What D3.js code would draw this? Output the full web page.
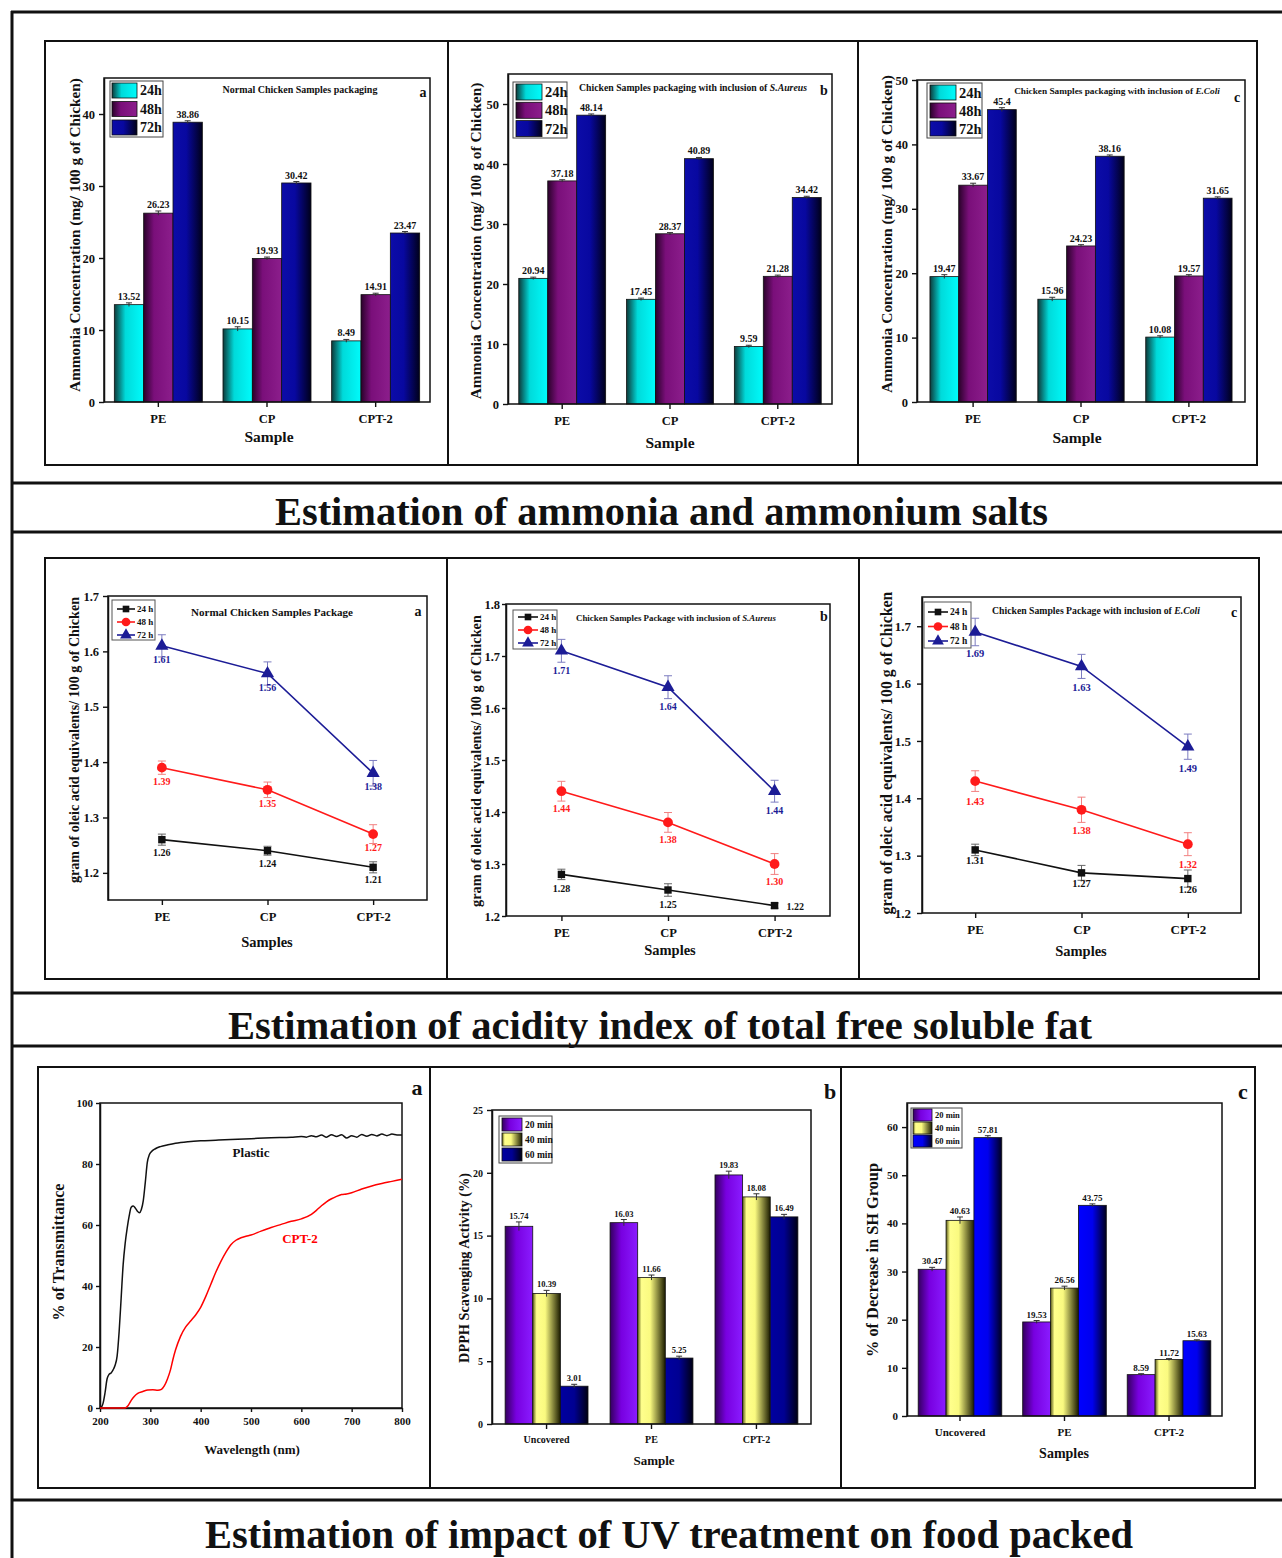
<!DOCTYPE html>
<html lang="en">
<head>
<meta charset="UTF-8">
<title>Chicken packaging figure</title>
<script src="https://cdn.jsdelivr.net/npm/d3@7"></script>
<style>
  body { margin: 0; background: #fff; }
  text { font-family: "Liberation Serif", "Times New Roman", serif; font-weight: bold; fill: #111; }
</style>
</head>
<body>
<div id="fig"></div>
<script>
// ---------------- data ----------------
var packSamples = ["PE", "CP", "CPT-2"];
var barHours = ["24h", "48h", "72h"];
var lineHours = ["24 h", "48 h", "72 h"];

// ammonia (mg/100 g chicken); rows = 24h, 48h, 72h; columns = PE, CP, CPT-2
var ammoniaNormal = [[13.52, 10.15, 8.49], [26.23, 19.93, 14.91], [38.86, 30.42, 23.47]];
var ammoniaSAureus = [[20.94, 17.45, 9.59], [37.18, 28.37, 21.28], [48.14, 40.89, 34.42]];
var ammoniaEColi = [[19.47, 15.96, 10.08], [33.67, 24.23, 19.57], [45.4, 38.16, 31.65]];
var ammoniaNormalErr = [[0.25, 0.3, 0.2], [0.3, 0.2, 0.2], [0.2, 0.2, 0.2]];
var ammoniaSAureusErr = [[0.2, 0.2, 0.2], [0.2, 0.2, 0.2], [0.2, 0.2, 0.2]];
var ammoniaEColiErr = [[0.3, 0.3, 0.2], [0.3, 0.2, 0.2], [0.3, 0.2, 0.2]];
var ammoniaTicksA = [0, 10, 20, 30, 40];
var ammoniaTicksB = [0, 10, 20, 30, 40, 50];

// acidity index (g oleic acid eq / 100 g chicken)
var acidNormal = [[1.26, 1.24, 1.21], [1.39, 1.35, 1.27], [1.61, 1.56, 1.38]];
var acidSAureus = [[1.28, 1.25, 1.22], [1.44, 1.38, 1.30], [1.71, 1.64, 1.44]];
var acidEColi = [[1.31, 1.27, 1.26], [1.43, 1.38, 1.32], [1.69, 1.63, 1.49]];
var acidNormalErr = [[0.01, 0.008, 0.01], [0.012, 0.014, 0.017], [0.02, 0.021, 0.023]];
var acidSAureusErr = [[0.01, 0.012, 0.005], [0.019, 0.019, 0.02], [0.022, 0.022, 0.021]];
var acidEColiErr = [[0.01, 0.013, 0.015], [0.018, 0.022, 0.02], [0.024, 0.021, 0.022]];
var acidTicksA = [1.2, 1.3, 1.4, 1.5, 1.6, 1.7];
var acidTicksB = [1.2, 1.3, 1.4, 1.5, 1.6, 1.7, 1.8];

// UV transmittance spectra
var plasticWl = [200, 203, 206, 210, 214, 218, 222, 226, 230, 234, 238, 242, 246, 250, 254, 258, 262, 266, 270, 274, 278, 282, 286, 290, 294, 298, 302, 310, 320, 335, 350, 375, 400, 430, 460, 500, 540, 580, 600, 610, 620, 630, 640, 650, 660, 670, 680, 690, 700, 710, 720, 730, 740, 750, 760, 770, 780, 790, 800];
var plasticT = [0, 0.3, 1.5, 5, 9.5, 11, 11.5, 12.5, 14, 17, 25, 36, 47, 54, 59, 63, 65.8, 66.2, 65.6, 64.6, 64, 65, 68, 74, 80.5, 83, 84, 85, 85.7, 86.3, 86.8, 87.3, 87.6, 87.8, 88, 88.3, 88.6, 88.8, 89, 88.8, 89.3, 88.9, 89.5, 88.8, 89.6, 89, 89.6, 88.5, 89.3, 88.8, 89.7, 89.1, 89.7, 89.2, 89.8, 89.3, 89.8, 89.5, 89.5];
var cptWl = [200, 250, 256, 262, 268, 275, 285, 295, 305, 315, 322, 328, 334, 340, 345, 350, 360, 370, 380, 390, 400, 410, 420, 430, 440, 450, 460, 470, 480, 490, 500, 520, 540, 560, 580, 600, 620, 630, 640, 650, 660, 670, 680, 690, 700, 720, 740, 760, 780, 800];
var cptT = [0, 0, 0.8, 2.5, 3.8, 4.8, 5.4, 5.9, 6, 5.8, 6.1, 7.3, 9.5, 12.5, 16, 19, 23.5, 26.5, 28.5, 30.5, 33, 36.5, 40.5, 44.5, 48, 51, 53.5, 55, 55.8, 56.3, 56.7, 58, 59.2, 60.2, 61.2, 62, 63.5, 64.8, 66.3, 67.6, 68.6, 69.4, 70, 70.2, 70.6, 71.8, 72.8, 73.6, 74.3, 75];
var wlTicks = [200, 300, 400, 500, 600, 700, 800];
var transTicks = [0, 20, 40, 60, 80, 100];

// DPPH and SH decrease; rows = 20, 40, 60 min; columns = Uncovered, PE, CPT-2
var uvSamples = ["Uncovered", "PE", "CPT-2"];
var uvMinutes = ["20 min", "40 min", "60 min"];
var dpph = [[15.74, 16.03, 19.83], [10.39, 11.66, 18.08], [3.01, 5.25, 16.49]];
var dpphErr = [[0.35, 0.25, 0.3], [0.25, 0.2, 0.25], [0.15, 0.15, 0.2]];
var shDecrease = [[30.47, 19.53, 8.59], [40.63, 26.56, 11.72], [57.81, 43.75, 15.63]];
var shErr = [[0.4, 0.3, 0.2], [0.7, 0.4, 0.2], [0.4, 0.3, 0.2]];
var dpphTicks = [0, 5, 10, 15, 20, 25];
var shTicks = [0, 10, 20, 30, 40, 50, 60];

// ---------------- canvas ----------------
var W = 1282, H = 1558;
var svg = d3.select("#fig").append("svg").attr("width", W).attr("height", H).style("display", "block");
svg.append("rect").attr("width", W).attr("height", H).attr("fill", "#fff");

var defs = svg.append("defs");
function addGrad(id, stops) {
    var lg = defs.append("linearGradient").attr("id", id)
        .attr("x1", 0).attr("y1", 0).attr("x2", 1).attr("y2", 0);
    stops.forEach(function(s) { lg.append("stop").attr("offset", s[0]).attr("stop-color", s[1]); });
}
addGrad("gCyan", [["0%", "#0d3a3a"], ["38%", "#00dada"], ["100%", "#00fbfb"]]);
addGrad("gPurple", [["0%", "#2a022a"], ["35%", "#7a0f7a"], ["100%", "#8c1e8c"]]);
addGrad("gNavy", [["0%", "#0c0ca8"], ["45%", "#0808a0"], ["100%", "#00001a"]]);
addGrad("gViolet", [["0%", "#34005e"], ["40%", "#7800e0"], ["100%", "#8a1cff"]]);
addGrad("gYellow", [["0%", "#5a5a18"], ["14%", "#ffff8c"], ["45%", "#fafa80"], ["100%", "#1c1c00"]]);
addGrad("gBlueDark", [["0%", "#0000a0"], ["50%", "#000092"], ["100%", "#000012"]]);
addGrad("gBlue", [["0%", "#0000ff"], ["50%", "#0000ee"], ["100%", "#00001e"]]);

// ---------------- frame ----------------
var frame = svg.append("g").attr("stroke", "#111").attr("fill", "none");
frame.append("line").attr("x1", 12).attr("x2", 12).attr("y1", 11).attr("y2", H).attr("stroke-width", 3);
[12, 483, 532, 993, 1046, 1500].forEach(function(yy) {
    frame.append("line").attr("x1", 11).attr("x2", W).attr("y1", yy).attr("y2", yy).attr("stroke-width", 3);
});
function panelBox(x0, y0, x1, y1, divs) {
    frame.append("rect").attr("x", x0).attr("y", y0).attr("width", x1 - x0).attr("height", y1 - y0).attr("stroke-width", 2);
    divs.forEach(function(dx) {
        frame.append("line").attr("x1", dx).attr("x2", dx).attr("y1", y0).attr("y2", y1).attr("stroke-width", 2);
    });
}
panelBox(45, 41, 1257, 465, [448, 858]);
panelBox(45, 558, 1259, 979, [447, 859]);
panelBox(38, 1067, 1255, 1488, [430, 841]);

function header(txt, x, y, len) {
    svg.append("text").attr("x", x).attr("y", y).attr("textLength", len)
        .attr("lengthAdjust", "spacingAndGlyphs").style("font-size", "40px").text(txt);
}
header("Estimation of ammonia and ammonium salts", 275, 525, 773);
header("Estimation of acidity index of total free soluble fat", 228, 1039, 864);
header("Estimation of impact of UV treatment on food packed", 205, 1548, 928);

// ---------------- helpers ----------------
// shrink or grow the font so the text's natural width is len
function fitWidth(t, size, len) {
    var w = t.node().getComputedTextLength();
    if (w > 0) t.style("font-size", (size * len / w).toFixed(2) + "px");
}
function richText(g, x, y, parts, size, len) {
    var t = g.append("text").attr("x", x).attr("y", y).attr("text-anchor", "middle").style("font-size", size + "px");
    parts.forEach(function(p) {
        t.append("tspan").style("font-style", p[1] ? "italic" : "normal").text(p[0]);
    });
    if (len) fitWidth(t, size, len);
    return t;
}
function yTitle(g, x, cy, txt, size, len) {
    var t = g.append("text").attr("transform", "translate(" + x + "," + cy + ") rotate(-90)")
        .attr("text-anchor", "middle").style("font-size", size + "px").text(txt);
    fitWidth(t, size, len);
}
function styleAxis(ax, size) {
    ax.select(".domain").attr("stroke", "#111").attr("stroke-width", 1.5);
    ax.selectAll(".tick line").attr("stroke", "#111").attr("stroke-width", 1.4);
    ax.selectAll(".tick text").style("font-size", size + "px").style("font-family", "Liberation Serif").style("font-weight", "bold").attr("fill", "#111");
}
function plotFrame(g, p) {
    g.append("rect").attr("x", p.x0).attr("y", p.y0).attr("width", p.x1 - p.x0).attr("height", p.y1 - p.y0)
        .attr("fill", "none").attr("stroke", "#111").attr("stroke-width", 1.5);
}

function barPanel(p) {
    var g = svg.append("g");
    var x = d3.scaleBand().domain(p.cats).range([p.x0, p.x1]).paddingInner(p.pi).paddingOuter(p.po);
    var xs = d3.scaleBand().domain(p.series).range([0, x.bandwidth()]);
    var y = d3.scaleLinear().domain([0, p.max]).range([p.y1, p.y0]);
    p.series.forEach(function(s, si) {
        var rows = p.values[si].map(function(v, i) { return { cat: p.cats[i], v: v, e: p.errs[si][i] }; });
        var sg = g.append("g");
        sg.selectAll("rect").data(rows).enter().append("rect")
            .attr("x", function(d) { return x(d.cat) + xs(s); })
            .attr("y", function(d) { return y(d.v); })
            .attr("width", xs.bandwidth())
            .attr("height", function(d) { return y(0) - y(d.v); })
            .attr("fill", "url(#" + p.grads[si] + ")")
            .attr("stroke", "#111").attr("stroke-width", 0.8);
        var cx = function(d) { return x(d.cat) + xs(s) + xs.bandwidth() / 2; };
        sg.selectAll("line.err").data(rows).enter().append("line")
            .attr("x1", cx).attr("x2", cx)
            .attr("y1", function(d) { return y(d.v - d.e); })
            .attr("y2", function(d) { return y(d.v + d.e); })
            .attr("stroke", "#333").attr("stroke-width", 1);
        sg.selectAll("line.cap").data(rows).enter().append("line")
            .attr("x1", function(d) { return cx(d) - 3; }).attr("x2", function(d) { return cx(d) + 3; })
            .attr("y1", function(d) { return y(d.v + d.e); })
            .attr("y2", function(d) { return y(d.v + d.e); })
            .attr("stroke", "#333").attr("stroke-width", 1);
        sg.selectAll("text").data(rows).enter().append("text")
            .attr("x", cx).attr("y", function(d) { return y(d.v + d.e) - 3; })
            .attr("text-anchor", "middle").style("font-size", p.valFont + "px")
            .text(function(d) { return d.v; });
    });
    plotFrame(g, p);
    var ya = g.append("g").attr("transform", "translate(" + p.x0 + ",0)")
        .call(d3.axisLeft(y).tickValues(p.ticks).tickSize(5).tickSizeOuter(0).tickPadding(4));
    styleAxis(ya, p.tickFont);
    var xa = g.append("g").attr("transform", "translate(0," + p.y1 + ")")
        .call(d3.axisBottom(x).tickSize(5).tickSizeOuter(0).tickPadding(7));
    styleAxis(xa, p.tickFont);
    xa.select(".domain").remove();

    // legend
    var L = p.leg;
    g.append("rect").attr("x", L.x).attr("y", L.y).attr("width", L.w).attr("height", L.h)
        .attr("fill", "#fff").attr("stroke", "#444").attr("stroke-width", 1);
    p.series.forEach(function(s, i) {
        var sy = L.sy + i * L.pitch;
        g.append("rect").attr("x", L.sx).attr("y", sy).attr("width", L.sw).attr("height", L.sh)
            .attr("fill", "url(#" + p.grads[i] + ")").attr("stroke", "#111").attr("stroke-width", 0.8);
        g.append("text").attr("x", L.sx + L.sw + 3).attr("y", sy + L.sh / 2).attr("dy", "0.35em")
            .style("font-size", L.fs + "px").text(s);
    });

    if (p.title) richText(g, p.title.x, p.title.y, p.title.parts, p.title.fs, p.title.len);
    g.append("text").attr("x", p.letter.x).attr("y", p.letter.y).attr("text-anchor", "middle")
        .style("font-size", p.letter.fs + "px").text(p.letter.t);
    yTitle(g, p.yt.x, p.yt.cy, p.yt.t, p.yt.fs, p.yt.len);
    g.append("text").attr("x", p.xt.x).attr("y", p.xt.y).attr("text-anchor", "middle")
        .style("font-size", p.xt.fs + "px").text(p.xt.t);
}

var lineColors = ["#111111", "#ff1a1a", "#1c1c96"];
var errColors = ["#666666", "#f28080", "#7c7cc0"];
var markerTypes = [d3.symbolSquare, d3.symbolCircle, d3.symbolTriangle];
var markerSizes = [55, 75, 75];

function linePanel(p) {
    var g = svg.append("g");
    var x = d3.scalePoint().domain(p.cats).range([p.x0, p.x1]).padding(p.pad);
    var y = d3.scaleLinear().domain([p.ymin, p.ymax]).range([p.y1, p.y0]);
    plotFrame(g, p);
    var ya = g.append("g").attr("transform", "translate(" + p.x0 + ",0)")
        .call(d3.axisLeft(y).tickValues(p.ticks).tickFormat(d3.format(".1f")).tickSize(p.yTick[0]).tickSizeOuter(0).tickPadding(p.yTick[1]));
    styleAxis(ya, p.tickFont);
    var xa = g.append("g").attr("transform", "translate(0," + p.y1 + ")")
        .call(d3.axisBottom(x).tickSize(5).tickSizeOuter(0).tickPadding(7));
    styleAxis(xa, p.tickFont);
    xa.select(".domain").remove();

    // legend first, so the point labels stay on top of it
    var L = p.leg;
    g.append("rect").attr("x", L.x).attr("y", L.y).attr("width", L.w).attr("height", L.h)
        .attr("fill", "#fff").attr("stroke", "#555").attr("stroke-width", 1);
    p.series.forEach(function(s, i) {
        var ly = L.ry + i * L.pitch;
        g.append("line").attr("x1", L.lx0).attr("x2", L.lx1).attr("y1", ly).attr("y2", ly)
            .attr("stroke", lineColors[i]).attr("stroke-width", 1.6);
        g.append("path").attr("transform", "translate(" + (L.lx0 + L.lx1) / 2 + "," + ly + ")")
            .attr("d", d3.symbol().type(markerTypes[i]).size(markerSizes[i] * 0.8)).attr("fill", lineColors[i]);
        g.append("text").attr("x", L.lx1 + 2).attr("y", ly).attr("dy", "0.35em")
            .style("font-size", L.fs + "px").text(s);
    });

    var line = d3.line().x(function(d) { return x(d.cat); }).y(function(d) { return y(d.v); });
    function isRight(si, i) { return p.rightLabel && p.rightLabel[0] === si && p.rightLabel[1] === i; }
    p.series.forEach(function(s, si) {
        var rows = p.values[si].map(function(v, i) { return { cat: p.cats[i], v: v, e: p.errs[si][i], i: i }; });
        g.append("path").datum(rows).attr("d", line).attr("fill", "none")
            .attr("stroke", lineColors[si]).attr("stroke-width", 1.6);
        rows.forEach(function(d) {
            var cx = x(d.cat);
            g.append("line").attr("x1", cx).attr("x2", cx).attr("y1", y(d.v - d.e)).attr("y2", y(d.v + d.e))
                .attr("stroke", errColors[si]).attr("stroke-width", 1);
            [d.v - d.e, d.v + d.e].forEach(function(cv) {
                g.append("line").attr("x1", cx - 4).attr("x2", cx + 4).attr("y1", y(cv)).attr("y2", y(cv))
                    .attr("stroke", errColors[si]).attr("stroke-width", 1);
            });
        });
        g.selectAll(null).data(rows).enter().append("path")
            .attr("transform", function(d) { return "translate(" + x(d.cat) + "," + y(d.v) + ")"; })
            .attr("d", d3.symbol().type(markerTypes[si]).size(markerSizes[si]))
            .attr("fill", lineColors[si]);
        g.selectAll(null).data(rows).enter().append("text")
            .attr("x", function(d) { return isRight(si, d.i) ? x(d.cat) + 12 : x(d.cat); })
            .attr("y", function(d) { return isRight(si, d.i) ? y(d.v) + 4 : y(d.v) + p.labelDy[si]; })
            .attr("text-anchor", function(d) { return isRight(si, d.i) ? "start" : "middle"; })
            .style("font-size", p.valFont + "px").style("fill", lineColors[si])
            .text(function(d) { return d3.format(".2f")(d.v); });
    });

    richText(g, p.title.x, p.title.y, p.title.parts, p.title.fs, p.title.len);
    g.append("text").attr("x", p.letter.x).attr("y", p.letter.y).attr("text-anchor", "middle")
        .style("font-size", p.letter.fs + "px").text(p.letter.t);
    yTitle(g, p.yt.x, p.yt.cy, p.yt.t, p.yt.fs, p.yt.len);
    g.append("text").attr("x", p.xt.x).attr("y", p.xt.y).attr("text-anchor", "middle")
        .style("font-size", p.xt.fs + "px").text(p.xt.t);
}

// ---------------- row 1: ammonia ----------------
var ammYLabel = "Ammonia Concentration (mg/ 100 g of Chicken)";
var barGradsTop = ["gCyan", "gPurple", "gNavy"];
barPanel({
    x0: 104, x1: 430, y0: 78, y1: 402, max: 45, ticks: ammoniaTicksA, pi: 0.19, po: 0.095,
    cats: packSamples, series: barHours, values: ammoniaNormal, errs: ammoniaNormalErr, grads: barGradsTop,
    valFont: 10, tickFont: 12.5,
    leg: { x: 110, y: 81, w: 53, h: 56, sx: 112, sy: 83, sw: 25, sh: 15, pitch: 18.5, fs: 14 },
    title: { x: 300, y: 93, fs: 10.5, len: 155, parts: [["Normal Chicken Samples packaging", false]] },
    letter: { x: 423, y: 97, fs: 14, t: "a" },
    yt: { x: 80, cy: 235, t: ammYLabel, fs: 13, len: 314 },
    xt: { x: 269, y: 442, fs: 15.5, t: "Sample" }
});
barPanel({
    x0: 508, x1: 832, y0: 74, y1: 404, max: 55, ticks: ammoniaTicksB, pi: 0.194, po: 0.1,
    cats: packSamples, series: barHours, values: ammoniaSAureus, errs: ammoniaSAureusErr, grads: barGradsTop,
    valFont: 10, tickFont: 12.5,
    leg: { x: 513, y: 82, w: 54, h: 56, sx: 516, sy: 84, sw: 26, sh: 16, pitch: 18.3, fs: 14.5 },
    title: { x: 693, y: 91, fs: 10.5, len: 228, parts: [["Chicken Samples packaging with inclusion of ", false], ["S.Aureus", true]] },
    letter: { x: 824, y: 95, fs: 14, t: "b" },
    yt: { x: 481, cy: 241, t: ammYLabel, fs: 13, len: 317 },
    xt: { x: 670, y: 448, fs: 15.5, t: "Sample" }
});
barPanel({
    x0: 917, x1: 1245, y0: 80, y1: 402, max: 50, ticks: ammoniaTicksB, pi: 0.2, po: 0.12,
    cats: packSamples, series: barHours, values: ammoniaEColi, errs: ammoniaEColiErr, grads: barGradsTop,
    valFont: 10, tickFont: 12.5,
    leg: { x: 927, y: 83, w: 55, h: 55, sx: 930, sy: 85, sw: 26, sh: 15, pitch: 18, fs: 14.5 },
    title: { x: 1117, y: 94, fs: 10.5, len: 206, parts: [["Chicken Samples packaging with inclusion of ", false], ["E.Coli", true]] },
    letter: { x: 1237, y: 102, fs: 14, t: "c" },
    yt: { x: 892, cy: 234, t: ammYLabel, fs: 13, len: 318 },
    xt: { x: 1077, y: 443, fs: 15.5, t: "Sample" }
});

// ---------------- row 2: acidity ----------------
var acidYLabel = "gram of oleic acid equivalents/ 100 g of Chicken";
linePanel({
    x0: 108, x1: 427, y0: 596, y1: 900, ymin: 1.151, ymax: 1.7, ticks: acidTicksA, pad: 0.51,
    cats: packSamples, series: lineHours, values: acidNormal, errs: acidNormalErr,
    valFont: 10, tickFont: 12.5, yTick: [5, 4], labelDy: [16, 17, 17],
    leg: { x: 112, y: 600, w: 43, h: 40, lx0: 117, lx1: 135, ry: 609, pitch: 13, fs: 9 },
    title: { x: 272, y: 616, fs: 10.5, len: 162, parts: [["Normal Chicken Samples Package", false]] },
    letter: { x: 418, y: 616, fs: 14, t: "a" },
    yt: { x: 79, cy: 740, t: acidYLabel, fs: 12.5, len: 286 },
    xt: { x: 267, y: 947, fs: 14.5, t: "Samples" }
});
linePanel({
    x0: 506, x1: 830, y0: 604, y1: 916, ymin: 1.2, ymax: 1.8, ticks: acidTicksB, pad: 0.52,
    cats: packSamples, series: lineHours, values: acidSAureus, errs: acidSAureusErr,
    valFont: 10, tickFont: 12.5, yTick: [4, 2], labelDy: [18, 21, 23], rightLabel: [0, 2],
    leg: { x: 513, y: 610, w: 44, h: 39, lx0: 518, lx1: 538, ry: 617, pitch: 13, fs: 9 },
    title: { x: 676, y: 621, fs: 10, len: 200, parts: [["Chicken Samples Package with inclusion of ", false], ["S.Aureus", true]] },
    letter: { x: 824, y: 621, fs: 14, t: "b" },
    yt: { x: 481, cy: 761, t: acidYLabel, fs: 12.5, len: 292 },
    xt: { x: 670, y: 955, fs: 14.5, t: "Samples" }
});
linePanel({
    x0: 922, x1: 1241, y0: 597, y1: 913, ymin: 1.2, ymax: 1.751, ticks: acidTicksA, pad: 0.5,
    cats: packSamples, series: lineHours, values: acidEColi, errs: acidEColiErr,
    valFont: 10.5, tickFont: 13, yTick: [5, 6], labelDy: [14, 24, 25],
    leg: { x: 924, y: 602, w: 47, h: 46, lx0: 928, lx1: 948, ry: 612, pitch: 14.5, fs: 9.5 },
    title: { x: 1096, y: 614, fs: 10.5, len: 208, parts: [["Chicken Samples Package with inclusion of ", false], ["E.Coli", true]] },
    letter: { x: 1234, y: 617, fs: 14, t: "c" },
    yt: { x: 892, cy: 753, t: acidYLabel, fs: 13.5, len: 323 },
    xt: { x: 1081, y: 956, fs: 14.5, t: "Samples" }
});

// ---------------- row 3: UV ----------------
(function() {
    var p = { x0: 100, x1: 402, y0: 1103, y1: 1408 };
    var g = svg.append("g");
    var x = d3.scaleLinear().domain([200, 800]).range([p.x0, p.x1]);
    var y = d3.scaleLinear().domain([0, 100]).range([p.y1, p.y0]);
    plotFrame(g, p);
    var ya = g.append("g").attr("transform", "translate(" + p.x0 + ",0)")
        .call(d3.axisLeft(y).tickValues(transTicks).tickSize(4).tickSizeOuter(0).tickPadding(3));
    styleAxis(ya, 11);
    var xa = g.append("g").attr("transform", "translate(0," + p.y1 + ")")
        .call(d3.axisBottom(x).tickValues(wlTicks).tickSize(4).tickSizeOuter(0).tickPadding(5));
    styleAxis(xa, 11);
    var ln = d3.line().curve(d3.curveMonotoneX).x(function(d) { return x(d[0]); }).y(function(d) { return y(d[1]); });
    g.append("path").datum(d3.zip(plasticWl, plasticT)).attr("d", ln)
        .attr("fill", "none").attr("stroke", "#111").attr("stroke-width", 1.5);
    g.append("path").datum(d3.zip(cptWl, cptT)).attr("d", ln)
        .attr("fill", "none").attr("stroke", "#ff0000").attr("stroke-width", 1.5);
    g.append("text").attr("x", 251).attr("y", 1157).attr("text-anchor", "middle").style("font-size", "13px").text("Plastic");
    g.append("text").attr("x", 300).attr("y", 1243).attr("text-anchor", "middle").style("font-size", "13px")
        .style("fill", "#ff0000").text("CPT-2");
    g.append("text").attr("x", 417).attr("y", 1095).attr("text-anchor", "middle").style("font-size", "22px").text("a");
    yTitle(g, 64, 1252, "% of Transmittance", 12.5, 137);
    g.append("text").attr("x", 252).attr("y", 1454).attr("text-anchor", "middle").style("font-size", "13px").text("Wavelength (nm)");
})();

barPanel({
    x0: 492, x1: 811, y0: 1110, y1: 1424, max: 25, ticks: dpphTicks, pi: 0.21, po: 0.125,
    cats: uvSamples, series: uvMinutes, values: dpph, errs: dpphErr, grads: ["gViolet", "gYellow", "gBlueDark"],
    valFont: 8.5, tickFont: 10,
    leg: { x: 499, y: 1116, w: 53, h: 47, sx: 502, sy: 1118, sw: 20, sh: 13, pitch: 15, fs: 9.5 },
    title: null,
    letter: { x: 830, y: 1099, fs: 22, t: "b" },
    yt: { x: 469, cy: 1268, t: "DPPH Scavenging Activity (%)", fs: 12, len: 190 },
    xt: { x: 654, y: 1465, fs: 13, t: "Sample" }
});
barPanel({
    x0: 907, x1: 1222, y0: 1103, y1: 1416, max: 65, ticks: shTicks, pi: 0.2, po: 0.107,
    cats: uvSamples, series: uvMinutes, values: shDecrease, errs: shErr, grads: ["gViolet", "gYellow", "gBlue"],
    valFont: 9, tickFont: 11,
    leg: { x: 911, y: 1108, w: 51, h: 40, sx: 913, sy: 1109, sw: 19, sh: 12, pitch: 13, fs: 8.5 },
    title: null,
    letter: { x: 1243, y: 1099, fs: 22, t: "c" },
    yt: { x: 878, cy: 1260, t: "% of Decrease in SH Group", fs: 14, len: 194 },
    xt: { x: 1064, y: 1458, fs: 14, t: "Samples" }
});
</script>
</body>
</html>
